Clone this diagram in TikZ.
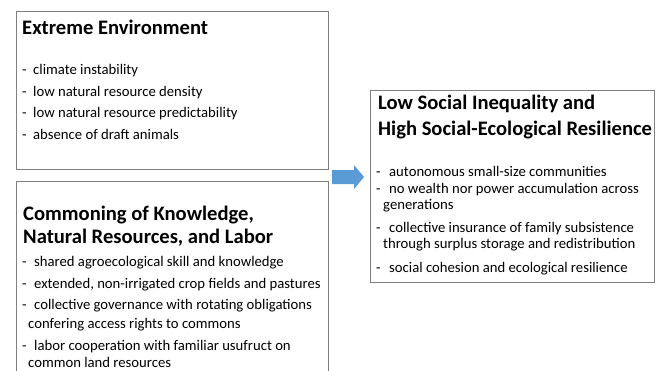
\documentclass[tikz,border=0pt]{standalone}
\usepackage{fontspec}
\setmainfont{Carlito}
\definecolor{boxgray}{HTML}{7F7F7F}
\definecolor{arrowblue}{HTML}{5B9BD5}
\tikzset{
  x=1pt, y=-1pt,
  box/.style={draw=boxgray, line width=0.8pt},
  ttl/.style={anchor=base west, inner sep=0pt, font=\fontsize{20.6}{24}\selectfont\bfseries},
  itm/.style={anchor=base west, inner sep=0pt, font=\fontsize{14.7}{17}\selectfont},
}
\begin{document}
\begin{tikzpicture}
\useasboundingbox (0,0) rectangle (662,370);
\fill[white] (0,0) rectangle (662,370);
% boxes
\draw[box] (16,11) rectangle (328,169);
\begin{scope}
\clip (0,0) rectangle (662,370);
\draw[box] (16,181) rectangle (328,380);
\end{scope}
\draw[box] (370,90) rectangle (654,282);
% box 1
\node[ttl] (t1) at (22,34) {Extreme Environment};
\node[itm] (a1) at (22,74) {-};
\node[itm] (a1t) at (33,74) {climate instability};
\node[itm] (a2) at (22,96) {-};
\node[itm] (a2t) at (33,96) {low natural resource density};
\node[itm] (a3) at (22,117) {-};
\node[itm] (a3t) at (33,117) {low natural resource predictability};
\node[itm] (a4) at (22,139) {-};
\node[itm] (a4t) at (33,139) {absence of draft animals};
% box 2
\node[ttl] (t2a) at (23,220) {Commoning of Knowledge,};
\node[ttl] (t2b) at (23,243) {Natural Resources, and Labor};
\node[itm] (b1) at (22,266) {-};
\node[itm] (b1t) at (34,266) {shared agroecological skill and knowledge};
\node[itm] (b2) at (22,288) {-};
\node[itm] (b2t) at (34,288) {extended, non-irrigated crop fields and pastures};
\node[itm] (b3) at (22,309) {-};
\node[itm] (b3t) at (34,309) {collective governance with rotating obligations};
\node[itm] (b3u) at (28,328) {confering access rights to commons};
\node[itm] (b4) at (22,350) {-};
\node[itm] (b4t) at (34,350) {labor cooperation with familiar usufruct on};
\node[itm] (b4u) at (28,367) {common land resources};
% box 3
\node[ttl] (t3a) at (378,109) {Low Social Inequality and};
\node[ttl] (t3b) at (378,135) {High Social-Ecological Resilience};
\node[itm] (c1) at (376,176) {-};
\node[itm] (c1t) at (389,176) {autonomous small-size communities};
\node[itm] (c2) at (376,193) {-};
\node[itm] (c2t) at (389,193) {no wealth nor power accumulation across};
\node[itm] (c2u) at (383,209) {generations};
\node[itm] (c3) at (376,232) {-};
\node[itm] (c3t) at (389,232) {collective insurance of family subsistence};
\node[itm] (c3u) at (383,248) {through surplus storage and redistribution};
\node[itm] (c4) at (376,272) {-};
\node[itm] (c4t) at (389,272) {social cohesion and ecological resilience};
% arrow
\fill[arrowblue] (332,170) -- (354,170) -- (354,165) -- (364,177) -- (354,189) -- (354,184) -- (332,184) -- cycle;
\end{tikzpicture}
\end{document}
